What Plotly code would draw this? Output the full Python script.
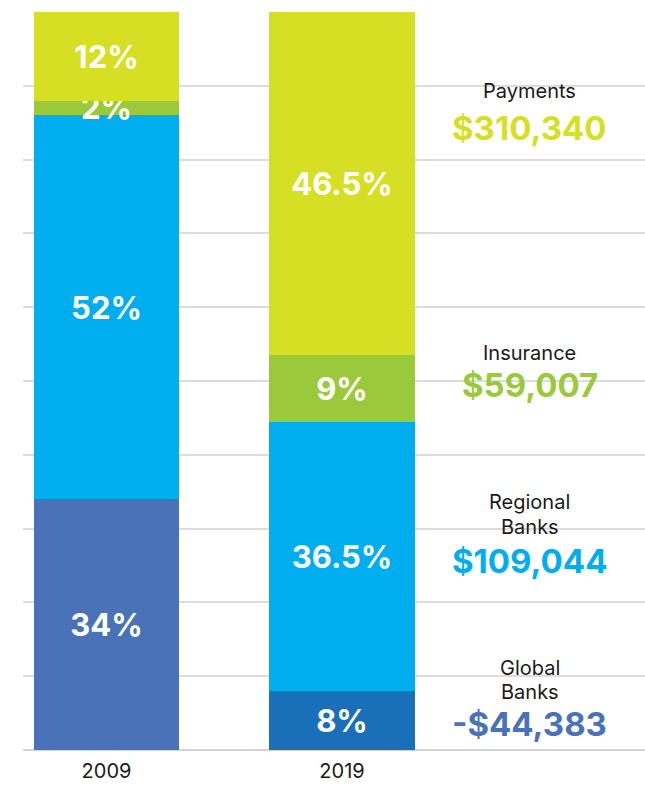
import plotly.graph_objects as go

# Share of value by segment, per year (percent)
years = ["2009", "2019"]
segments = ["Global Banks", "Regional Banks", "Insurance", "Payments"]
share_global = [34, 8]
share_regional = [52, 36.5]
share_insurance = [2, 9]
share_payments = [12, 46.5]

# Value change per segment shown on the right
segment_titles = [["Payments"], ["Insurance"], ["Regional", "Banks"], ["Global", "Banks"]]
segment_values = ["$310,340", "$59,007", "$109,044", "-$44,383"]

# Colours
c_payments = "#d6df23"
c_insurance = "#9bc93c"
c_regional = "#00aeef"
c_global = ["#4a72b8", "#1a70b8"]
c_global_text = "#4a72b8"

FONT = "Inter"

def pct(v):
    return f"{v:g}%"

fig = go.Figure()
series = [
    (share_global, c_global),
    (share_regional, c_regional),
    (share_insurance, c_insurance),
    (share_payments, c_payments),
]
for (vals, col), name in zip(series, segments):
    fig.add_trace(go.Bar(
        x=years, y=vals, name=name,
        marker=dict(color=col, line=dict(width=0)),
        width=0.616,
        text=[pct(v) for v in vals],
        textposition="inside",
        insidetextanchor="middle",
        constraintext="none",
        textfont=dict(family=FONT, size=31, color="white", weight="bold"),
        hoverinfo="skip",
    ))

# Right-hand labels: segment name (one annotation per line) and value
label_x = 0.815
title_y = [[91], [353], [502, 527], [668, 692]]
value_y = [128, 385, 561, 724]
value_colors = [c_payments, c_insurance, c_regional, c_global_text]
def to_paper(py):
    return (750 - py) / 738

for lines, v, tys, vy, vc in zip(segment_titles, segment_values, title_y, value_y, value_colors):
    for line, ty in zip(lines, tys):
        fig.add_annotation(xref="paper", yref="paper", x=label_x, y=to_paper(ty),
                           text=line, showarrow=False, xanchor="center", yanchor="middle",
                           font=dict(family=FONT, size=20, color="#1a1a1a"))
    fig.add_annotation(xref="paper", yref="paper", x=label_x, y=to_paper(vy),
                       text=v, showarrow=False, xanchor="center", yanchor="middle",
                       font=dict(family=FONT, size=33, color=vc, weight="bold"))

fig.update_layout(
    barmode="stack",
    width=645, height=785,
    margin=dict(l=23, r=0, t=12, b=35),
    paper_bgcolor="white", plot_bgcolor="white",
    showlegend=False,
    uniformtext=dict(minsize=31, mode="show"),
    xaxis=dict(type="category", range=[-0.3546, 2.2866], showgrid=False,
               showline=False, ticks="", zeroline=False,
               tickfont=dict(family=FONT, size=20, color="#1a1a1a"),
               ticklabelstandoff=7),
    yaxis=dict(range=[0, 100], dtick=10, showticklabels=False, ticks="",
               showgrid=True, gridcolor="#dcdcdc", gridwidth=1.5,
               zeroline=True, zerolinecolor="#d4d4d4", zerolinewidth=2,
               showline=False),
)

fig.write_html("out.html")
